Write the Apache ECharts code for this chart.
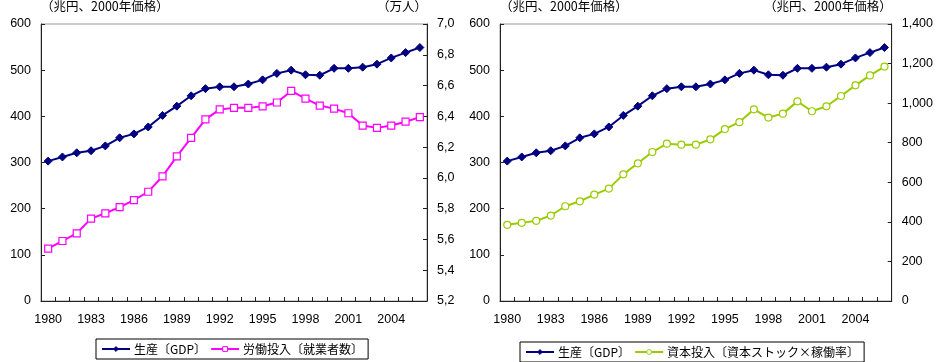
<!DOCTYPE html>
<html>
<head>
<meta charset="utf-8">
<script src="https://cdn.jsdelivr.net/npm/echarts@6/dist/echarts.min.js"></script>
<style>
  html, body { margin: 0; padding: 0; background: #fff; }
  #chart { width: 936px; height: 362px; }
</style>
</head>
<body>
<div id="chart"></div>
<script>
// Years on the horizontal axis
const years = ['1980','1981','1982','1983','1984','1985','1986','1987','1988','1989',
  '1990','1991','1992','1993','1994','1995','1996','1997','1998','1999',
  '2000','2001','2002','2003','2004','2005','2006'];

// Real GDP (trillion yen, 2000 prices)
const gdp = [303, 312, 321, 325.5, 336, 353.5, 362, 377, 402, 422,
  444.5, 460, 464, 464, 470, 479, 493, 500, 490, 489,
  504, 504, 506.5, 513, 526.5, 538, 549];

// Labour input (employed persons)
const labor = [5.54, 5.59, 5.64, 5.735, 5.77, 5.81, 5.855, 5.91, 6.01, 6.14,
  6.26, 6.38, 6.445, 6.455, 6.455, 6.465, 6.49, 6.565, 6.515, 6.47,
  6.45, 6.42, 6.34, 6.325, 6.34, 6.365, 6.395];

// Capital input (capital stock x utilisation rate)
const capital = [385, 395, 405, 432, 479, 504, 538, 568, 640, 696,
  753, 795, 790, 790, 817, 869, 904, 969, 927, 947,
  1009, 959, 984, 1036, 1090, 1140, 1185];

const nameGdp = '生産〔GDP〕';
const nameLabor = '労働投入〔就業者数〕';
const nameCapital = '資本投入〔資本ストック×稼働率〕';
const unitYen = '（兆円、2000年価格）';
const unitPeople = '（万人）';

const FONT = '"Liberation Sans", Arial, "Noto Sans CJK JP", sans-serif';
const CJK = '"Noto Sans CJK JP", "Liberation Sans", sans-serif';
const AXIS_COLOR = '#222';

function xAxisFor(gridIndex) {
  return {
    type: 'category', gridIndex, data: years, boundaryGap: true,
    axisLine: { lineStyle: { color: AXIS_COLOR, width: 1 } },
    axisTick: { show: true, inside: true, length: 4, interval: 0, lineStyle: { color: AXIS_COLOR } },
    axisLabel: { interval: 2, margin: 12, color: '#000', fontSize: 12.5, fontFamily: FONT },
    splitLine: { show: false }
  };
}

function yAxisFor(gridIndex, position, min, max, interval, name, nameAlign, formatter) {
  return {
    type: 'value', gridIndex, position, min, max, interval,
    name, nameLocation: 'end', nameGap: 11,
    nameTextStyle: { align: nameAlign, color: '#000', fontSize: 12.5, fontFamily: CJK },
    axisLine: { show: true, lineStyle: { color: AXIS_COLOR, width: 1 } },
    axisTick: { show: true, inside: true, length: 4, lineStyle: { color: AXIS_COLOR } },
    axisLabel: { margin: 10, color: '#000', fontSize: 12.5, fontFamily: FONT, formatter },
    splitLine: { show: false }
  };
}

const gdpStyle = {
  type: 'line', name: nameGdp, symbol: 'diamond', symbolSize: 8,
  lineStyle: { color: '#000080', width: 2 },
  itemStyle: { color: '#000080', borderColor: '#000080' }
};

const legendBase = {
  orient: 'horizontal', borderColor: '#000', borderWidth: 1,
  padding: [4, 5, 4, 5], itemWidth: 28, itemHeight: 6, itemGap: 4,
  itemStyle: { borderWidth: 1 },
  textStyle: { color: '#000', fontSize: 12, fontFamily: CJK, padding: [0, 0, 0, -1] }
};

const option = {
  animation: false,
  grid: [
    { left: 41, top: 24, width: 386, height: 277, show: true, borderColor: '#999', borderWidth: 1, backgroundColor: 'transparent' },
    { left: 500, top: 24, width: 392, height: 277, show: true, borderColor: '#999', borderWidth: 1, backgroundColor: 'transparent' }
  ],
  xAxis: [xAxisFor(0), xAxisFor(1)],
  yAxis: [
    yAxisFor(0, 'left', 0, 600, 100, unitYen, 'left'),
    yAxisFor(0, 'right', 5.2, 7.0, 0.2, unitPeople, 'right', v => v.toFixed(1).replace('.', ',')),
    yAxisFor(1, 'left', 0, 600, 100, unitYen, 'left'),
    yAxisFor(1, 'right', 0, 1400, 200, unitYen, 'right', v => v.toLocaleString('en-US'))
  ],
  legend: [
    Object.assign({}, legendBase, { left: 96, top: 339, data: [nameGdp, nameLabor] }),
    Object.assign({}, legendBase, { left: 520, top: 342, data: [nameGdp, nameCapital] })
  ],
  series: [
    Object.assign({}, gdpStyle, { xAxisIndex: 0, yAxisIndex: 0, data: gdp }),
    {
      type: 'line', name: nameLabor, xAxisIndex: 0, yAxisIndex: 1, data: labor,
      symbol: 'rect', symbolSize: 7,
      lineStyle: { color: '#FF00FF', width: 2 },
      itemStyle: { color: '#fff', borderColor: '#FF00FF', borderWidth: 1.2 }
    },
    Object.assign({}, gdpStyle, { xAxisIndex: 1, yAxisIndex: 2, data: gdp }),
    {
      type: 'line', name: nameCapital, xAxisIndex: 1, yAxisIndex: 3, data: capital,
      symbol: 'circle', symbolSize: 7,
      lineStyle: { color: '#99CC00', width: 2 },
      itemStyle: { color: '#fff', borderColor: '#99CC00', borderWidth: 1.2 }
    }
  ]
};

const chart = echarts.init(document.getElementById('chart'), null, { renderer: 'canvas' });
chart.setOption(option);
</script>
</body>
</html>
